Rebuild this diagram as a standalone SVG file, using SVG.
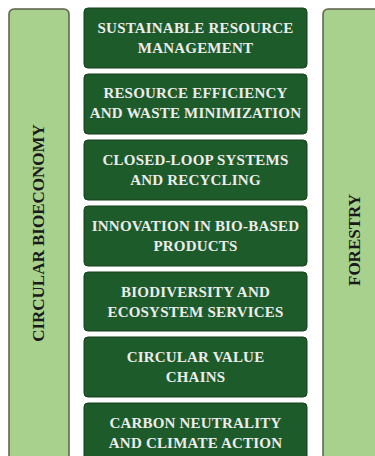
<svg xmlns="http://www.w3.org/2000/svg" width="375" height="456" viewBox="0 0 375 456">
<style>
.bar{fill:#a9d18e;stroke:#5b5f4a;stroke-width:1.5}
.box{fill:#1e5b2a;stroke:#163f1e;stroke-width:1}
.bt{font-family:"Liberation Serif",serif;font-weight:bold;font-size:15px;letter-spacing:0.2px;fill:#ececec;text-anchor:middle}
.lt{font-family:"Liberation Serif",serif;font-weight:bold;font-size:17px;fill:#1a1a1a;text-anchor:middle}
</style>
<rect width="375" height="456" fill="#ffffff"/>
<g id="circular-bioeconomy">
<rect class="bar" x="9" y="9" width="60" height="460" rx="5"/>
<text class="lt" transform="translate(44,233) rotate(-90)">CIRCULAR BIOECONOMY</text>
</g>
<g id="forestry">
<rect class="bar" x="323" y="9" width="70" height="460" rx="5"/>
<text class="lt" transform="translate(360,240) rotate(-90)">FORESTRY</text>
</g>
<g id="n1">
<rect class="box" x="84" y="8" width="223" height="60" rx="4"/>
<text class="bt" x="195.5" y="33">SUSTAINABLE RESOURCE</text>
<text class="bt" x="195.5" y="53">MANAGEMENT</text>
</g>
<g id="n2">
<rect class="box" x="84" y="74" width="223" height="60" rx="4"/>
<text class="bt" x="195.5" y="98">RESOURCE EFFICIENCY</text>
<text class="bt" x="195.5" y="118">AND WASTE MINIMIZATION</text>
</g>
<g id="n3">
<rect class="box" x="84" y="140" width="223" height="60" rx="4"/>
<text class="bt" x="195.5" y="164.5">CLOSED-LOOP SYSTEMS</text>
<text class="bt" x="195.5" y="184.5">AND RECYCLING</text>
</g>
<g id="n4">
<rect class="box" x="84" y="206" width="223" height="60" rx="4"/>
<text class="bt" x="195.5" y="230.5">INNOVATION IN BIO-BASED</text>
<text class="bt" x="195.5" y="250.5">PRODUCTS</text>
</g>
<g id="n5">
<rect class="box" x="84" y="272" width="223" height="59" rx="4"/>
<text class="bt" x="195.5" y="296.5">BIODIVERSITY AND</text>
<text class="bt" x="195.5" y="316.5">ECOSYSTEM SERVICES</text>
</g>
<g id="n6">
<rect class="box" x="84" y="337" width="223" height="60" rx="4"/>
<text class="bt" x="195.5" y="361.5">CIRCULAR VALUE</text>
<text class="bt" x="195.5" y="381.5">CHAINS</text>
</g>
<g id="n7">
<rect class="box" x="84" y="403" width="223" height="70" rx="4"/>
<text class="bt" x="195.5" y="427.5">CARBON NEUTRALITY</text>
<text class="bt" x="195.5" y="447.5">AND CLIMATE ACTION</text>
</g>
<g id="connectors"/>
</svg>
